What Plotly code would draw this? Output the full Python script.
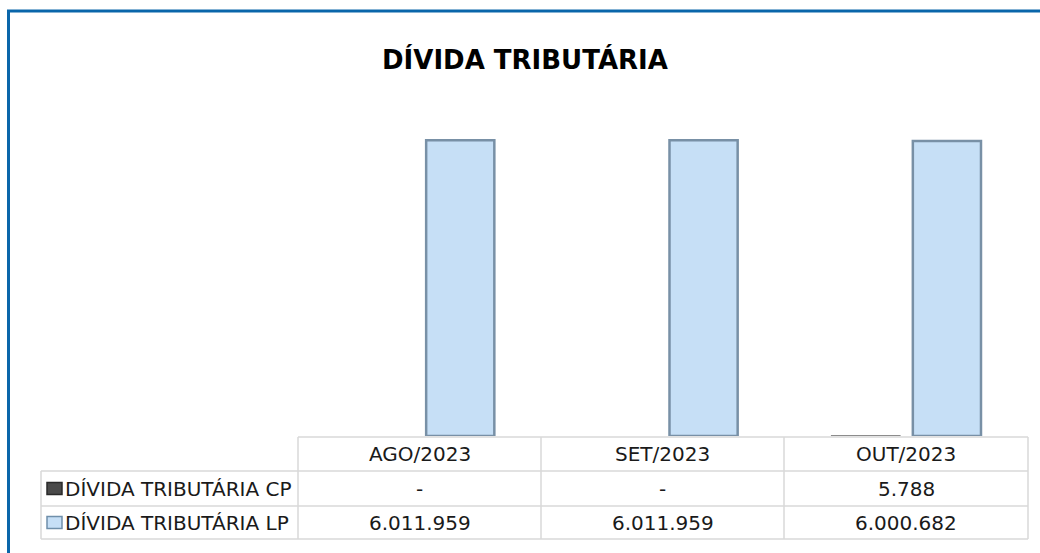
import plotly.graph_objects as go

W, H = 1040, 553

categories = ["AGO/2023", "SET/2023", "OUT/2023"]
series_names = ["DÍVIDA TRIBUTÁRIA CP", "DÍVIDA TRIBUTÁRIA LP"]
cp_values = [0, 0, 5788]
lp_values = [6011959, 6011959, 6000682]
cp_labels = ["-", "-", "5.788"]
lp_labels = ["6.011.959", "6.011.959", "6.000.682"]
title_text = "DÍVIDA TRIBUTÁRIA"

FONT = "DejaVu Sans"
GRID = "#D9D9D9"
BLUE_BORDER = "#0A66AA"
CP_COLOR = "#4A4A4A"
LP_COLOR = "#C6DFF6"

def px(x):
    return x / W

def py(y):
    return 1 - y / H

fig = go.Figure()
fig.add_trace(go.Bar(
    x=categories, y=cp_values, name=series_names[0],
    marker=dict(color=CP_COLOR,
                line=dict(color="#8C8C8C", width=[1.5 if v else 0 for v in cp_values])),
    showlegend=False,
))
fig.add_trace(go.Bar(
    x=categories, y=lp_values, name=series_names[1],
    marker=dict(color=LP_COLOR, line=dict(color="#7890A6", width=2.5)),
    showlegend=False,
))

x_left, x_right = 298, 1028
y_bottom, y_top = 436, 136

shapes = []
annotations = []

# outer blue frame (top and left)
shapes.append(dict(type="line", xref="paper", yref="paper",
                   x0=px(7), x1=px(1040), y0=py(11), y1=py(11),
                   line=dict(color=BLUE_BORDER, width=3)))
shapes.append(dict(type="line", xref="paper", yref="paper",
                   x0=px(8.5), x1=px(8.5), y0=py(10), y1=py(553),
                   line=dict(color=BLUE_BORDER, width=3)))

row_y = [437, 471, 506, 539]
col_x = [298, 541, 784, 1028]
leg_x = 41
shapes.append(dict(type="line", xref="paper", yref="paper",
                   x0=px(col_x[0]), x1=px(col_x[-1]), y0=py(row_y[0]), y1=py(row_y[0]),
                   line=dict(color=GRID, width=1.5)))
for yy in row_y[1:]:
    shapes.append(dict(type="line", xref="paper", yref="paper",
                       x0=px(leg_x), x1=px(col_x[-1]), y0=py(yy), y1=py(yy),
                       line=dict(color=GRID, width=1.5)))
shapes.append(dict(type="line", xref="paper", yref="paper",
                   x0=px(leg_x), x1=px(leg_x), y0=py(row_y[1]), y1=py(row_y[-1]),
                   line=dict(color=GRID, width=1.5)))
for xx in col_x:
    shapes.append(dict(type="line", xref="paper", yref="paper",
                       x0=px(xx), x1=px(xx), y0=py(row_y[0]), y1=py(row_y[-1]),
                       line=dict(color=GRID, width=1.5)))

tfont = dict(family=FONT, size=20, color="#1A1A1A")
for i, c in enumerate(categories):
    cx = (col_x[i] + col_x[i + 1]) / 2
    annotations.append(dict(x=px(cx), y=py((row_y[0] + row_y[1]) / 2), xref="paper", yref="paper",
                            text=c, showarrow=False, font=tfont, xanchor="center", yanchor="middle"))
    annotations.append(dict(x=px(cx), y=py((row_y[1] + row_y[2]) / 2), xref="paper", yref="paper",
                            text=cp_labels[i], showarrow=False, font=tfont, xanchor="center", yanchor="middle"))
    annotations.append(dict(x=px(cx), y=py((row_y[2] + row_y[3]) / 2), xref="paper", yref="paper",
                            text=lp_labels[i], showarrow=False, font=tfont, xanchor="center", yanchor="middle"))

key_colors = [(CP_COLOR, "#2A2A2A"), (LP_COLOR, "#6F8FAA")]
for r, name in enumerate(series_names):
    yc = (row_y[r + 1] + row_y[r + 2]) / 2
    shapes.append(dict(type="rect", xref="paper", yref="paper",
                       x0=px(47), x1=px(62), y0=py(yc - 6), y1=py(yc + 6),
                       fillcolor=key_colors[r][0], line=dict(color=key_colors[r][1], width=1.5)))
    annotations.append(dict(x=px(63), y=py(yc), xref="paper", yref="paper",
                            text=name, showarrow=False, font=tfont, xanchor="left", yanchor="middle"))

annotations.append(dict(x=px(525), y=py(59), xref="paper", yref="paper",
                        text="<b>" + title_text + "</b>", showarrow=False,
                        font=dict(family=FONT, size=26, color="#000000"),
                        xanchor="center", yanchor="middle"))

fig.update_layout(
    width=W, height=H,
    margin=dict(l=0, r=0, t=0, b=0),
    paper_bgcolor="white", plot_bgcolor="white",
    barmode="group", bargap=0.333, bargroupgap=0.16,
    xaxis=dict(domain=[px(x_left), px(x_right)], showticklabels=False, showgrid=False,
               zeroline=False, showline=False, ticks=""),
    yaxis=dict(domain=[py(y_bottom), py(y_top)], range=[0, 6.1e6], showticklabels=False,
               showgrid=False, zeroline=False, showline=False, ticks=""),
    shapes=shapes, annotations=annotations,
)

fig.write_html("out.html")
